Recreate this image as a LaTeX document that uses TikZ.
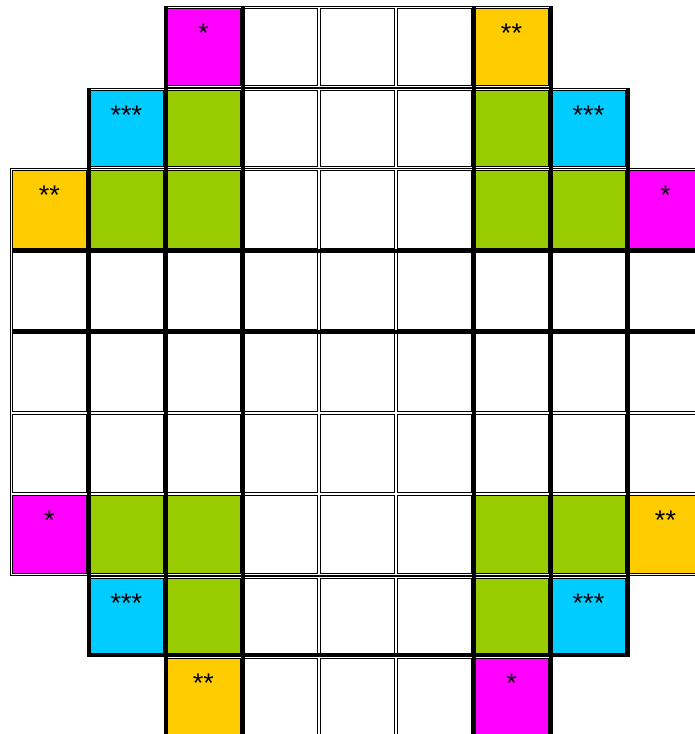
\documentclass[tikz,border=0pt]{standalone}
\usepackage{fontspec}
\newfontfamily\starfont{Liberation Sans}
\definecolor{cMag}{HTML}{FF00FF}
\definecolor{cGold}{HTML}{FFCC00}
\definecolor{cSky}{HTML}{00CCFF}
\definecolor{cGrn}{HTML}{99CC00}
\tikzset{
  tbl/.style={draw=black, line width=1pt},
  cellbox/.style={draw=black, line width=1pt, inner sep=0pt, outer sep=0pt, minimum width=74pt, minimum height=#1},
  band/.style={fill=black},
  stars/.style={font=\starfont\fontsize{27}{27}\selectfont, inner sep=0pt, anchor=base}
}
\begin{document}
\begin{tikzpicture}[x=1pt,y=-1pt]
\fill[white] (0,0) rectangle (694,734);
\useasboundingbox (0,0) rectangle (694,734);
% table outlines
\draw[tbl] (164.5,6.5) rectangle (550.5,87.5);
\draw[tbl] (87.5,88.5) rectangle (627.5,168.5);
\draw[tbl] (10.5,168.5) rectangle (704.5,575.5);
\draw[tbl] (87.5,576.5) rectangle (627.5,656.5);
\draw[tbl] (164.5,656.5) rectangle (550.5,736.5);
% row 0
\foreach \c/\f in {2/cMag,3/white,4/white,5/white,6/cGold}
  \node[cellbox=77pt, fill=\f] (r0c\c) at ({49.5+77*\c},47) {};
% row 1
\foreach \c/\f in {1/cSky,2/cGrn,3/white,4/white,5/white,6/cGrn,7/cSky}
  \node[cellbox=76pt, fill=\f] (r1c\c) at ({49.5+77*\c},128.5) {};
% rows 2-6
\foreach \c/\f in {0/cGold,1/cGrn,2/cGrn,3/white,4/white,5/white,6/cGrn,7/cGrn,8/cMag}
  \node[cellbox=78.2pt, fill=\f] (r2c\c) at ({49.5+77*\c},209.6) {};
\foreach \r in {3,4,5}
  \foreach \c in {0,...,8}
    \node[cellbox=78.2pt, fill=white] (r\r c\c) at ({49.5+77*\c},{209.6+81.2*(\r-2)}) {};
\foreach \c/\f in {0/cMag,1/cGrn,2/cGrn,3/white,4/white,5/white,6/cGrn,7/cGrn,8/cGold}
  \node[cellbox=78.2pt, fill=\f] (r6c\c) at ({49.5+77*\c},534.4) {};
% row 7
\foreach \c/\f in {1/cSky,2/cGrn,3/white,4/white,5/white,6/cGrn,7/cSky}
  \node[cellbox=76pt, fill=\f] (r7c\c) at ({49.5+77*\c},616.5) {};
% row 8
\foreach \c/\f in {2/cGold,3/white,4/white,5/white,6/cMag}
  \node[cellbox=76pt, fill=\f] (r8c\c) at ({49.5+77*\c},696.5) {};
% thick region borders
\fill[band] (87,88) rectangle (91,657);
\fill[band] (164,6) rectangle (168,734);
\fill[band] (241,6) rectangle (245,734);
\fill[band] (472,6) rectangle (476,734);
\fill[band] (549,6) rectangle (553,734);
\fill[band] (626,88) rectangle (630,657);
\fill[band] (12,248.7) rectangle (703,252.7);
\fill[band] (12,329.9) rectangle (703,333.9);
\fill[band] (87,653) rectangle (630,657);
% labels
\node[stars] (s1) at ([yshift=-34pt]r0c2.north) {*};
\node[stars] (s2) at ([yshift=-34pt]r0c6.north) {**};
\node[stars] (s3) at ([yshift=-34pt]r1c1.north) {***};
\node[stars] (s4) at ([yshift=-34pt]r1c7.north) {***};
\node[stars] (s5) at ([yshift=-34pt]r2c0.north) {**};
\node[stars] (s6) at ([yshift=-34pt]r2c8.north) {*};
\node[stars] (s7) at ([yshift=-34pt]r6c0.north) {*};
\node[stars] (s8) at ([yshift=-34pt]r6c8.north) {**};
\node[stars] (s9) at ([yshift=-34pt]r7c1.north) {***};
\node[stars] (s10) at ([yshift=-34pt]r7c7.north) {***};
\node[stars] (s11) at ([yshift=-34pt]r8c2.north) {**};
\node[stars] (s12) at ([yshift=-34pt]r8c6.north) {*};
\end{tikzpicture}
\end{document}
